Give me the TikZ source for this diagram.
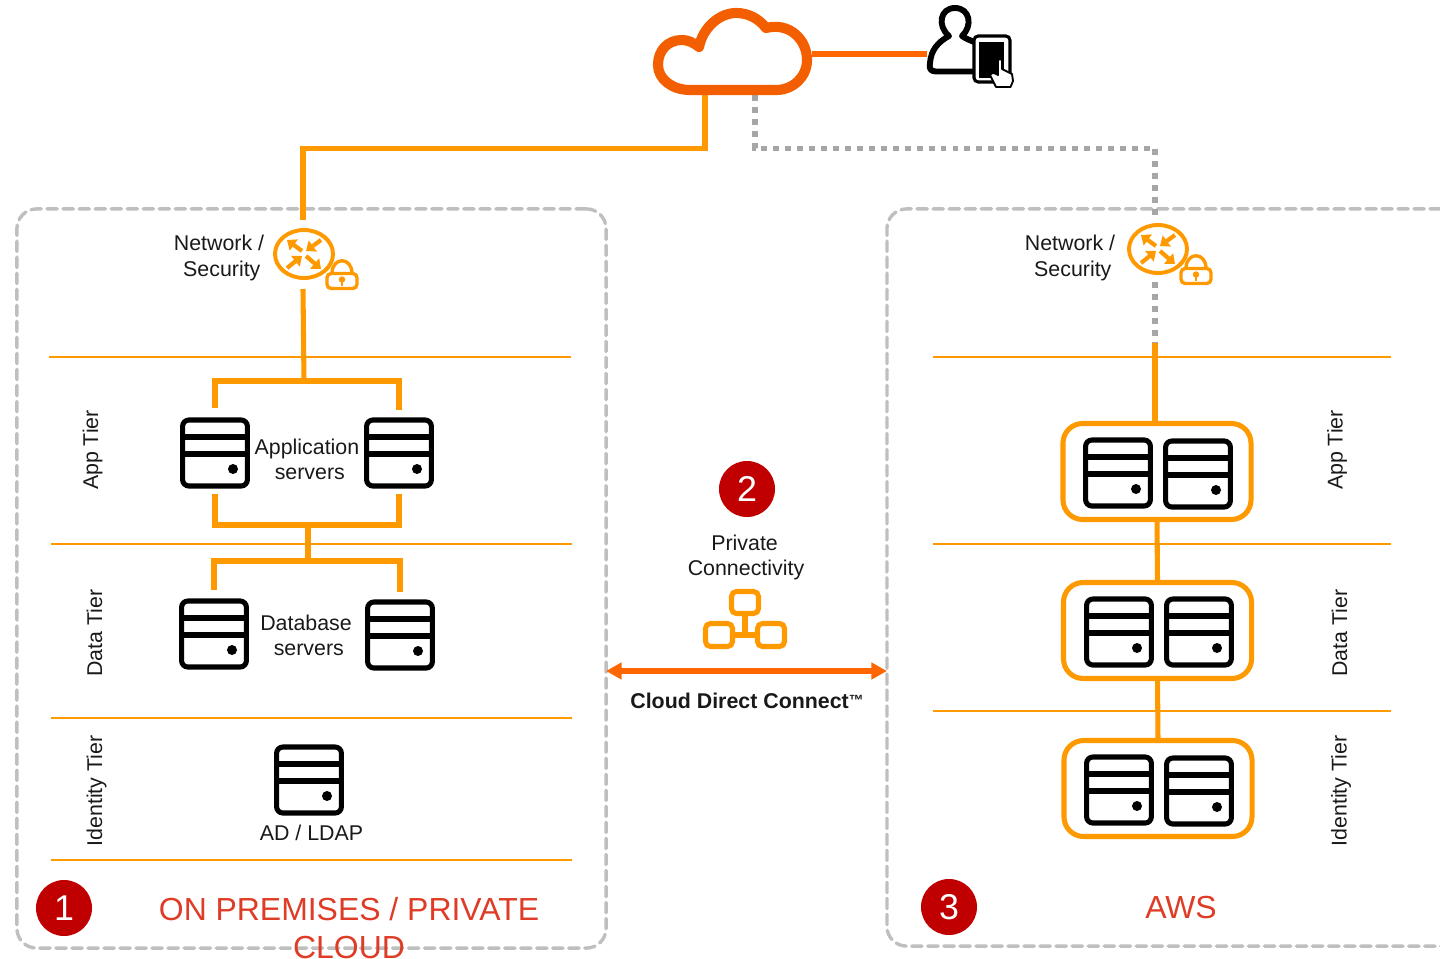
\documentclass[tikz,border=0pt]{standalone}
\usepackage{fontspec}
\setmainfont{Liberation Sans}
\usetikzlibrary{arrows.meta}

\definecolor{uplink}{HTML}{FF9900}
\definecolor{cloudred}{HTML}{F35E00}
\definecolor{darkline}{HTML}{FF6600}
\definecolor{badgered}{HTML}{C00000}
\definecolor{zonetitle}{HTML}{DE3C26}

\tikzset{
    link/.style={uplink,line width=3.6pt},
    dotlink/.style={color={rgb,255:red,166;green,166;blue,166},line width=3.6pt,dash pattern=on 4.2pt off 4.3pt},
    tierline/.style={uplink,line width=1.3pt},
    ghost/.style={inner sep=0pt,outer sep=0pt},
    zonebox/.style={draw={rgb,255:red,191;green,191;blue,191},line width=2.4pt,dash pattern=on 7.4pt off 4pt,line cap=round,rounded corners=14pt,ghost},
    serverbox/.style={draw=black,fill=white,line width=3.6pt,rounded corners=4.5pt,minimum width=1.62cm,minimum height=1.65cm,ghost},
    groupbox/.style={draw=uplink,fill=white,line width=3.6pt,rounded corners=14pt,minimum width=4.7cm,minimum height=2.4cm,ghost},
    badge/.style={circle,fill=badgered,text=white,minimum size=1.4cm,ghost,font=\fontsize{25.5}{26}\selectfont},
    label/.style={align=center,ghost,font=\fontsize{15.2}{18.4}\selectfont,text=black!90},
    tierlabel/.style={label,rotate=90},
    zonetext/.style={align=center,ghost,text=zonetitle,font=\fontsize{22.7}{27}\selectfont},
    pics/serverunit/.style={code={
        \node[serverbox] (-box) at (0,0) {};
        \draw[black,line width=3.6pt] (-32,-16) -- (32,-16);
        \draw[black,line width=3.6pt] (-32,1) -- (32,1);
        \fill[black] (18,16) circle[radius=5];
    }},
    pics/routericon/.style={code={
        \draw[uplink,line width=2.8pt,fill=white] (0,0) circle[x radius=29,y radius=24];
        \foreach \ax/\ay/\bx/\by in {-2/-3/-17/-14,17/-14/2/-3,-17/14/-2/2,2/2/17/15}
            \draw[uplink,line width=3pt,-{Triangle[length=6pt,width=9.5pt]}] (\ax,\ay) -- (\bx,\by);
    }},
    pics/lockicon/.style={code={
        \draw[uplink,line width=2.4pt] (-10,-7) .. controls (-10,-24) and (10,-24) .. (10,-7);
        \draw[uplink,line width=2.4pt,fill=white,rounded corners=3pt] (-15,-7) rectangle (15,8);
        \fill[uplink] (0,-1) circle[radius=3.2];
        \draw[uplink,line width=2pt] (0,-1) -- (0,5);
    }},
}

\begin{document}
\begin{tikzpicture}[x=0.025cm,y=-0.025cm]
    \useasboundingbox (0,0) rectangle (1440,959);

    % the two zones
    \node[zonebox,minimum width=14.725cm,minimum height=18.475cm] (premises) at (311.5,578.5) {};
    \node[zonebox,minimum width=14.325cm,minimum height=18.425cm] (aws) at (1173.5,577.5) {};

    % tier lines
    \draw[tierline] (49,357) -- (571,357);
    \draw[tierline] (51,544) -- (572,544);
    \draw[tierline] (51,718) -- (572,718);
    \draw[tierline] (51,860) -- (572,860);
    \draw[tierline] (933,357) -- (1391,357);
    \draw[tierline] (933,544) -- (1391,544);
    \draw[tierline] (933,711) -- (1391,711);

    % anchors for the icons
    \node[ghost,minimum width=3.975cm,minimum height=2.05cm] (cloud) at (732.5,54) {};
    \node[ghost,minimum width=2.2cm,minimum height=2.45cm] (user) at (971,54) {};
    \node[ghost,minimum width=1.5cm,minimum height=1.725cm] (routerL) at (303,254.5) {};
    \node[ghost,minimum width=1.5cm,minimum height=1.55cm] (routerR) at (1155,251) {};
    \coordinate (upL) at (705,148.5);
    \coordinate (upR) at (755,148.5);
    \coordinate (dropR) at (1155,343);
    \coordinate (busA) at (304,381);
    \coordinate (busB) at (308,525);
    \coordinate (busC) at (308,561);
    \coordinate (dcline) at (746,671);

    % servers
    \pic (appA) at (215,453) {serverunit};
    \pic (appB) at (399,453) {serverunit};
    \pic (dbA) at (214,634) {serverunit};
    \pic (dbB) at (400,635) {serverunit};
    \pic (ldap) at (309,780) {serverunit};

    % the three groups on the aws side
    \node[groupbox] (grpApp) at (1157,471.5) {};
    \node[groupbox] (grpData) at (1157.5,630.5) {};
    \node[groupbox] (grpId) at (1158,788.5) {};
    \pic (awsA) at (1118,473) {serverunit};
    \pic (awsB) at (1198,474) {serverunit};
    \pic (awsC) at (1119,632) {serverunit};
    \pic (awsD) at (1199,632) {serverunit};
    \pic (awsE) at (1119,790) {serverunit};
    \pic (awsF) at (1199,791) {serverunit};

    % connectors
    \draw[darkline,line width=3.6pt] (cloud.east) -- (user.west);
    \draw[link] (cloud.south -| upL) -- (upL) -- (upL -| routerL.north) -- (routerL.north);
    \draw[link] (routerL.south) -- (busA);
    \draw[link,shorten <=8.5pt,shorten >=7pt] (appA-box.north) |- (busA) -| (appB-box.north);
    \draw[link,shorten <=6pt,shorten >=6pt] (appA-box.south) |- (busB) -| (appB-box.south);
    \draw[link] (busB) -- (busC);
    \draw[link,shorten <=8pt,shorten >=7pt] (dbA-box.north) |- (busC) -| (dbB-box.north);
    \draw[dotlink] (cloud.south -| upR) -- (upR) -- (upR -| routerR.north) -- (routerR.north);
    \draw[dotlink] (routerR.south) -- (dropR);
    \draw[link] (dropR) -- (grpApp.north -| dropR);
    \draw[link] (grpApp.south) -- (grpData.north);
    \draw[link] (grpData.south) -- (grpId.north);
    \draw[darkline,line width=3.6pt,{Triangle[length=11pt,width=11.5pt]}-{Triangle[length=11pt,width=11.5pt]}] (premises.east |- dcline) -- (aws.west |- dcline);

    % cloud
    \draw[cloudred,line width=7.2pt,line join=round,fill=white] (690,90) -- (776,90)
        .. controls (793,90) and (807,77) .. (807,60)
        .. controls (807,40) and (790,22) .. (766,28)
        .. controls (759,19) and (749,13) .. (736,13)
        .. controls (720,13) and (703,27) .. (699,47)
        .. controls (693,42) and (687,40) .. (682,40)
        .. controls (668,40) and (658,50) .. (658,65)
        .. controls (658,79) and (672,90) .. (690,90) -- cycle;

    % user with tablet
    \draw[black,line width=4.2pt,line join=round,fill=white] (974,71.5) -- (936,71.5)
        .. controls (930,71.5) and (929,68) .. (930,63)
        .. controls (931,50) and (938,42) .. (949,36)
        .. controls (937,26) and (940,8) .. (955,8)
        .. controls (970,8) and (973,26) .. (962,36)
        .. controls (966,39) and (970,40) .. (974,42);
    \draw[black,line width=2.2pt,fill=white,rounded corners=3pt] (974,36) rectangle (1010,82);
    \fill[black] (979,42) rectangle (1004,78);
    \draw[black,line width=1.3pt,fill=white,line join=round] (998,75) -- (998,60.5) .. controls (998,59) and (1002,59) .. (1002,60.5)
        -- (1002,69) -- (1012,74) -- (1013,81) -- (1010.5,87) -- (996,87) -- (990,75) .. controls (992,72) and (995,73) .. cycle;

    % network and security
    \pic at (304,254) {routericon};
    \pic at (342,280.5) {lockicon};
    \pic at (1158,249) {routericon};
    \pic at (1196,275.5) {lockicon};
    \node[label] (netL) at (219,258) {Network /\\\hspace*{4pt}Security};
    \node[label] (netR) at (1070,258) {Network /\\\hspace*{4pt}Security};

    % server labels
    \node[label,font=\fontsize{15.2}{17.6}\selectfont] (appText) at (307,459.5) {Application\\\hspace*{4pt}servers};
    \node[label,font=\fontsize{15.2}{17.8}\selectfont] (dbText) at (306,635.5) {Database\\\hspace*{4pt}servers};
    \node[label] (ldapText) at (311.5,832.5) {AD / LDAP};

    % tier labels
    \node[tierlabel] (appTierL) at (92.5,450) {App Tier};
    \node[tierlabel] (dataTierL) at (94.5,633) {Data Tier};
    \node[tierlabel] (idTierL) at (96.5,791) {Identity Tier};
    \node[tierlabel] (appTierR) at (1337,450) {App Tier};
    \node[tierlabel] (dataTierR) at (1339.5,633) {Data Tier};
    \node[tierlabel] (idTierR) at (1341,791) {Identity Tier};

    % private connectivity
    \node[badge] (two) at (747,489) {2};
    \node[label,font=\fontsize{15.2}{18}\selectfont] (privText) at (746,557.5) {\hspace*{-2pt}Private\\Connectivity};
    \draw[uplink,line width=3.6pt] (745,613) -- (745,635);
    \draw[uplink,line width=3.6pt] (735,635) -- (755,635);
    \draw[uplink,line width=3.6pt,rounded corners=3.5pt] (731.5,591.5) rectangle (758.5,613.5);
    \draw[uplink,line width=3.6pt,rounded corners=3.5pt] (705.5,623.5) rectangle (732.5,646.5);
    \draw[uplink,line width=3.6pt,rounded corners=3.5pt] (757.5,623.5) rectangle (784.5,646.5);
    \node[label,font=\fontsize{15.2}{18.4}\selectfont\bfseries] (dcText) at (747,701) {Cloud Direct Connect\raisebox{2.5pt}{\fontsize{10.5}{10.5}\selectfont ™}};

    % zone titles
    \node[badge] (one) at (64,908) {1};
    \node[zonetext] (premText) at (349,928) {ON PREMISES / PRIVATE\\CLOUD};
    \node[badge] (three) at (949,907) {3};
    \node[zonetext] (awsText) at (1181,908) {AWS};
\end{tikzpicture}
\end{document}
